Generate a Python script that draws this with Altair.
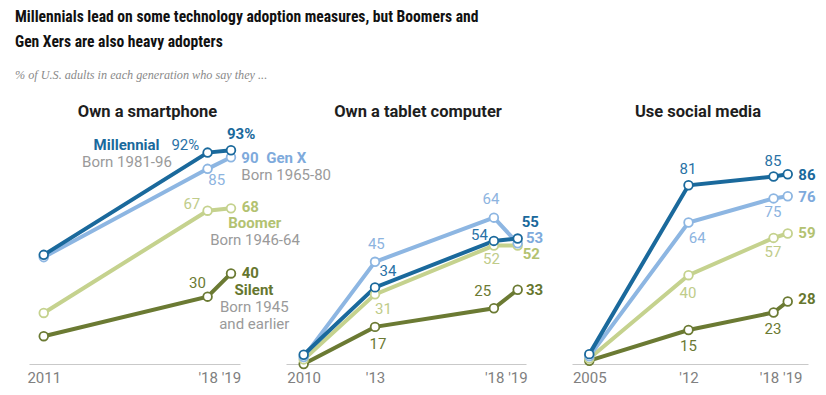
import json
import altair as alt
import pandas as pd

# ---------------- data ----------------
generations = ["Silent", "Boomer", "Gen X", "Millennial"]  # drawing order, back to front
born_text = {
    "Millennial": ["Born 1981-96"],
    "Gen X": ["Born 1965-80"],
    "Boomer": ["Born 1946-64"],
    "Silent": ["Born 1945", "and earlier"],
}

smartphone_years = [2011, 2018, 2019]
smartphone_millennial = [48, 92, 93]
smartphone_genx = [47, 85, 90]
smartphone_boomer = [23, 67, 68]
smartphone_silent = [13, 30, 40]

tablet_years = [2010, 2013, 2018, 2019]
tablet_millennial = [5, 34, 54, 55]
tablet_genx = [4, 45, 64, 53]
tablet_boomer = [3, 31, 52, 52]
tablet_silent = [1, 17, 25, 33]

social_years = [2005, 2012, 2018, 2019]
social_millennial = [4, 81, 85, 86]
social_genx = [3, 64, 75, 76]
social_boomer = [2, 40, 57, 59]
social_silent = [1, 15, 23, 28]

panel_titles = ["Own a smartphone", "Own a tablet computer", "Use social media"]
tick_values = [[2011, 2018.5], [2010, 2013, 2018.5], [2005, 2012, 2018.5]]
tick_labels = [["2011", "'18 '19"], ["2010", "'13", "'18 '19"], ["2005", "'12", "'18 '19"]]

title_lines = [
    "Millennials lead on some technology adoption measures, but Boomers and",
    "Gen Xers are also heavy adopters",
]
subtitle_text = "% of U.S. adults in each generation who say they ..."

# ---------------- styles ----------------
line_colors = ["#6b7a33", "#c5d28e", "#8db6e2", "#1a699c"]
bold_colors = {"Millennial": "#1a699c", "Gen X": "#7eaadc", "Boomer": "#b3c271", "Silent": "#66762e"}
reg_colors = {"Millennial": "#2a72a6", "Gen X": "#8db4df", "Boomer": "#c0cc8a", "Silent": "#6b7a33"}
gray_text = "#9a9a9a"
LABEL_FONT = "Roboto"

# label placement: (generation, year, kind, align, dx, dy, bold)
specs_smart = [
    ("Millennial", 2018, "name", "center", -81, -2.3, True),
    ("Millennial", 2018, "born0", "center", -80.6, 14.4, False),
    ("Millennial", 2018, "pct", "right", -8.3, -2.3, False),
    ("Millennial", 2019, "pct", "left", -4, -11.6, True),
    ("Gen X", 2019, "val", "left", 10.3, 5.5, True),
    ("Gen X", 2019, "name", "left", 35.3, 5.5, True),
    ("Gen X", 2019, "born0", "left", 10.3, 23.1, False),
    ("Gen X", 2018, "val", "center", 9.1, 16.4, False),
    ("Boomer", 2018, "val", "right", -7.3, -1.4, False),
    ("Boomer", 2019, "val", "left", 10.7, 3.3, True),
    ("Boomer", 2019, "name", "center", 23.8, 19.9, True),
    ("Boomer", 2019, "born0", "center", 24, 36.6, False),
    ("Silent", 2018, "val", "right", -1.6, -8.4, False),
    ("Silent", 2019, "val", "left", 10.7, 4.3, True),
    ("Silent", 2019, "name", "center", 23, 21.6, True),
    ("Silent", 2019, "born0", "center", 23.3, 38.3, False),
    ("Silent", 2019, "born1", "center", 23.3, 55.3, False),
]
specs_tablet = [
    ("Gen X", 2013, "val", "center", 1.3, -12.5, False),
    ("Millennial", 2013, "val", "left", 4.5, -11.4, False),
    ("Boomer", 2013, "val", "center", 8.5, 19.9, False),
    ("Silent", 2013, "val", "center", 3, 22.4, False),
    ("Gen X", 2018, "val", "center", -2.9, -14, False),
    ("Millennial", 2018, "val", "right", -6, -1, False),
    ("Boomer", 2018, "val", "center", -2.4, 18.7, False),
    ("Silent", 2018, "val", "center", -11.2, -12.3, False),
    ("Millennial", 2019, "val", "left", 4, -11.6, True),
    ("Gen X", 2019, "val", "left", 8.3, -0.5, True),
    ("Boomer", 2019, "val", "left", 5, 13.7, True),
    ("Silent", 2019, "val", "left", 8.3, 5.3, True),
]
specs_social = [
    ("Millennial", 2012, "val", "center", -0.5, -11, False),
    ("Gen X", 2012, "val", "center", 8.7, 20.2, False),
    ("Boomer", 2012, "val", "center", -0.5, 22.5, False),
    ("Silent", 2012, "val", "center", 0, 21, False),
    ("Millennial", 2018, "val", "center", -0.5, -10.5, False),
    ("Gen X", 2018, "val", "center", -0.5, 18.6, False),
    ("Boomer", 2018, "val", "center", -0.5, 19.1, False),
    ("Silent", 2018, "val", "center", -0.5, 21.8, False),
    ("Millennial", 2019, "val", "left", 10.6, 5.4, True),
    ("Gen X", 2019, "val", "left", 10.6, 6, True),
    ("Boomer", 2019, "val", "left", 10.6, 4.5, True),
    ("Silent", 2019, "val", "left", 10.6, 2.5, True),
]


def build_df(years, series):
    rows = []
    for g in generations:
        for yr, v in zip(years, series[g]):
            rows.append({"year": yr, "gen": g, "value": v})
    return pd.DataFrame(rows)


df_smart = build_df(smartphone_years, {"Millennial": smartphone_millennial, "Gen X": smartphone_genx,
                                       "Boomer": smartphone_boomer, "Silent": smartphone_silent})
df_tablet = build_df(tablet_years, {"Millennial": tablet_millennial, "Gen X": tablet_genx,
                                    "Boomer": tablet_boomer, "Silent": tablet_silent})
df_social = build_df(social_years, {"Millennial": social_millennial, "Gen X": social_genx,
                                    "Boomer": social_boomer, "Silent": social_silent})

color_scale = alt.Scale(domain=generations, range=line_colors)
PANEL_H = 241


def make_panel(df, title, width, xdomain, ydomain, ticks, labels, specs, title_dx):
    label_expr = " : ".join(
        f"datum.value == {t} ? {json.dumps(l)}" for t, l in zip(ticks, labels)
    ) + " : ''"
    x = alt.X(
        "year:Q",
        scale=alt.Scale(domain=xdomain, nice=False, zero=False),
        axis=alt.Axis(values=ticks, labelExpr=label_expr, title=None, grid=False, ticks=False,
                      domainColor="#c9c9c9", domainWidth=1, labelColor="#808080",
                      labelFont=LABEL_FONT, labelFontSize=15, labelPadding=6,
                      labelOverlap=False, labelFlush=False, labelBound=False),
    )
    y = alt.Y("value:Q", scale=alt.Scale(domain=ydomain, nice=False, zero=False), axis=None)
    base = alt.Chart(df)
    lines = base.mark_line(strokeWidth=4).encode(
        x=x, y=y, color=alt.Color("gen:N", scale=color_scale, legend=None)
    )
    points = base.mark_point(shape="circle", filled=True, fill="white", size=75,
                             strokeWidth=1.8, opacity=1).encode(
        x=x, y=y, stroke=alt.Stroke("gen:N", scale=color_scale, legend=None)
    )
    layers = [lines, points]
    for (g, yr, kind, align, dx, dy, bold) in specs:
        sub = base.transform_filter((alt.datum.gen == g) & (alt.datum.year == yr))
        color = bold_colors[g] if bold else reg_colors[g]
        if kind == "val":
            text = alt.Text("value:Q", format="d")
        elif kind == "pct":
            sub = sub.transform_calculate(lab="format(datum.value, 'd') + '%'")
            text = alt.Text("lab:N")
        elif kind == "name":
            text = alt.Text("gen:N")
        else:
            text = alt.value(born_text[g][int(kind[-1])])
            color = gray_text
        layers.append(
            sub.mark_text(align=align, baseline="alphabetic", dx=dx, dy=dy, font=LABEL_FONT,
                          fontSize=15, fontWeight="bold" if bold else "normal", color=color)
            .encode(x=x, y=y, text=text)
        )
    return alt.layer(*layers).properties(
        width=width, height=PANEL_H,
        title=alt.TitleParams(title, anchor="middle", frame="group", dx=title_dx, offset=-10,
                              baseline="alphabetic", font=LABEL_FONT, fontSize=16.5,
                              fontWeight="bold", color="#1e1e1e"),
    )


p1 = make_panel(df_smart, panel_titles[0], 211, [2010.37, 2019.385], [1.03, 104.73],
                tick_values[0], tick_labels[0], specs_smart, 13)
p2 = make_panel(df_tablet, panel_titles[1], 240, [2009.256, 2019.35], [1.03, 104.73],
                tick_values[1], tick_labels[1], specs_tablet, 12)
p3 = make_panel(df_social, panel_titles[2], 236, [2003.78, 2020.43], [-0.5, 109.39],
                tick_values[2], tick_labels[2], specs_social, 8)

chart = alt.hconcat(
    p1, p2, p3, spacing=46, bounds="flush",
    padding={"left": 7, "top": 2, "right": 0, "bottom": 0},
    title=alt.TitleParams(
        title_lines, subtitle=subtitle_text, anchor="start", frame="group", dx=-14,
        baseline="top", font="Liberation Sans Narrow, Roboto Condensed, DejaVu Sans Condensed, Roboto",
        fontSize=15.6, fontWeight="bold", lineHeight=24.4, color="#111111", offset=22,
        subtitleFont="Liberation Serif, DejaVu Serif, serif", subtitleFontStyle="italic",
        subtitleFontSize=12.2, subtitleColor="#8a8a8a", subtitlePadding=19,
    ),
).resolve_scale(x="independent", y="independent").configure_view(stroke=None)

chart.save("out.html", embed_options={"renderer": "svg", "actions": False})
